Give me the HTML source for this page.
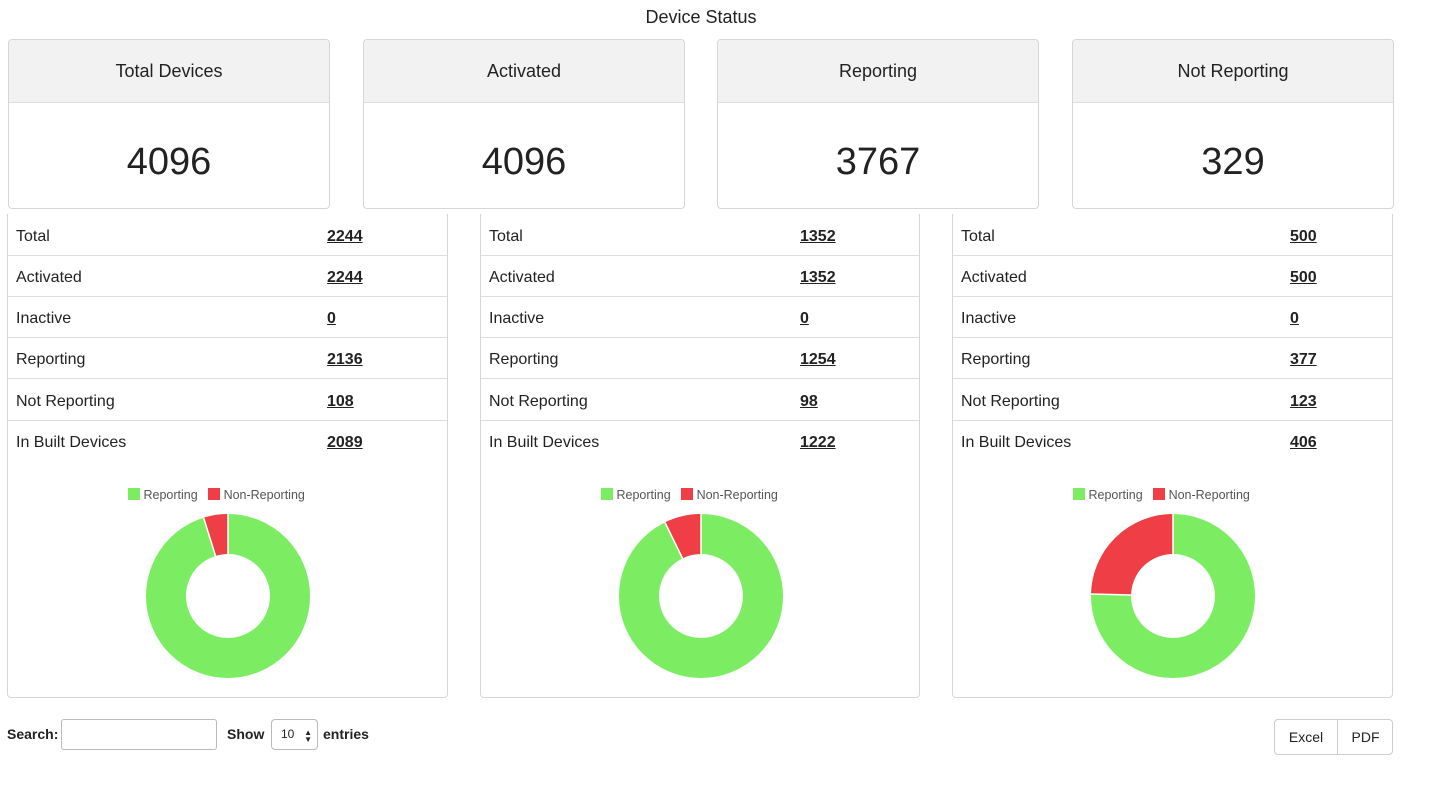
<!DOCTYPE html>
<html><head><meta charset="utf-8"><style>
*{box-sizing:border-box;margin:0;padding:0}
body{width:1450px;height:800px;background:#fff;font-family:"Liberation Sans",sans-serif;color:#222;position:relative;overflow:hidden}
.abs{position:absolute}
.title{left:0;width:1402px;top:7px;text-align:center;font-size:18px}
.card{top:39px;height:170px;width:322px;border:1px solid #d6d6d6;border-radius:4px;overflow:hidden}
.card .h{height:63px;background:#f2f2f2;border-bottom:1px solid #ddd;text-align:center;line-height:63px;font-size:18px}
.card .n{text-align:center;font-size:38px;line-height:40px;padding-top:39px}
.panel{top:214px;height:484px;border:1px solid #d6d6d6;border-top:none;border-radius:0 0 4px 4px}
.row{position:absolute;left:0;right:0;height:41px;border-bottom:1px solid #ddd;font-size:16px;line-height:44px}
.row span.l{position:absolute;left:8px}
.row span.v{position:absolute;font-weight:bold;text-decoration:underline}
.leg{position:absolute;top:274px;font-size:12.5px;color:#555}
.leg i{display:inline-block;width:12px;height:12px;vertical-align:-1px}
.ctl{font-size:14px;font-weight:bold}
</style></head><body>
<div class="abs title">Device Status</div>
<div class="abs card" style="left:8px"><div class="h">Total Devices</div><div class="n">4096</div></div>
<div class="abs card" style="left:363px"><div class="h">Activated</div><div class="n">4096</div></div>
<div class="abs card" style="left:717px"><div class="h">Reporting</div><div class="n">3767</div></div>
<div class="abs card" style="left:1072px"><div class="h">Not Reporting</div><div class="n">329</div></div>

<div class="abs panel" style="left:7px;width:441px">
<div class="row" style="top:1px"><span class="l">Total</span><span class="v" style="left:319px">2244</span></div>
<div class="row" style="top:42px"><span class="l">Activated</span><span class="v" style="left:319px">2244</span></div>
<div class="row" style="top:83px"><span class="l">Inactive</span><span class="v" style="left:319px">0</span></div>
<div class="row" style="top:124px"><span class="l">Reporting</span><span class="v" style="left:319px">2136</span></div>
<div class="row" style="top:166px"><span class="l">Not Reporting</span><span class="v" style="left:319px">108</span></div>
<div class="row" style="top:207px;border-bottom:none"><span class="l">In Built Devices</span><span class="v" style="left:319px">2089</span></div>
<div class="leg" style="left:120px"><i style="background:#7ced62"></i> Reporting &nbsp; <i style="background:#f03e46"></i> Non-Reporting</div>
<svg class="abs" style="left:138px;top:300px" width="164" height="164"><g transform="translate(82,82) rotate(-90)"><circle r="62" fill="none" stroke="#7ced62" stroke-width="40"/><circle r="62" fill="none" stroke="#f03e46" stroke-width="40" stroke-dasharray="18.75 400" stroke-dashoffset="-370.8"/><line x1="42" y1="0" x2="82" y2="0" stroke="#fff" stroke-width="1.5"/><line x1="42" y1="0" x2="82" y2="0" stroke="#fff" stroke-width="1.5" transform="rotate(-17.3)"/></g></svg>
</div>

<div class="abs panel" style="left:480px;width:440px">
<div class="row" style="top:1px"><span class="l">Total</span><span class="v" style="left:319px">1352</span></div>
<div class="row" style="top:42px"><span class="l">Activated</span><span class="v" style="left:319px">1352</span></div>
<div class="row" style="top:83px"><span class="l">Inactive</span><span class="v" style="left:319px">0</span></div>
<div class="row" style="top:124px"><span class="l">Reporting</span><span class="v" style="left:319px">1254</span></div>
<div class="row" style="top:166px"><span class="l">Not Reporting</span><span class="v" style="left:319px">98</span></div>
<div class="row" style="top:207px;border-bottom:none"><span class="l">In Built Devices</span><span class="v" style="left:319px">1222</span></div>
<div class="leg" style="left:120px"><i style="background:#7ced62"></i> Reporting &nbsp; <i style="background:#f03e46"></i> Non-Reporting</div>
<svg class="abs" style="left:138px;top:300px" width="164" height="164"><g transform="translate(82,82) rotate(-90)"><circle r="62" fill="none" stroke="#7ced62" stroke-width="40"/><circle r="62" fill="none" stroke="#f03e46" stroke-width="40" stroke-dasharray="28.24 400" stroke-dashoffset="-361.3"/><line x1="42" y1="0" x2="82" y2="0" stroke="#fff" stroke-width="1.5"/><line x1="42" y1="0" x2="82" y2="0" stroke="#fff" stroke-width="1.5" transform="rotate(-26.1)"/></g></svg>
</div>

<div class="abs panel" style="left:952px;width:441px">
<div class="row" style="top:1px"><span class="l">Total</span><span class="v" style="left:337px">500</span></div>
<div class="row" style="top:42px"><span class="l">Activated</span><span class="v" style="left:337px">500</span></div>
<div class="row" style="top:83px"><span class="l">Inactive</span><span class="v" style="left:337px">0</span></div>
<div class="row" style="top:124px"><span class="l">Reporting</span><span class="v" style="left:337px">377</span></div>
<div class="row" style="top:166px"><span class="l">Not Reporting</span><span class="v" style="left:337px">123</span></div>
<div class="row" style="top:207px;border-bottom:none"><span class="l">In Built Devices</span><span class="v" style="left:337px">406</span></div>
<div class="leg" style="left:120px"><i style="background:#7ced62"></i> Reporting &nbsp; <i style="background:#f03e46"></i> Non-Reporting</div>
<svg class="abs" style="left:138px;top:300px" width="164" height="164"><g transform="translate(82,82) rotate(-90)"><circle r="62" fill="none" stroke="#7ced62" stroke-width="40"/><circle r="62" fill="none" stroke="#f03e46" stroke-width="40" stroke-dasharray="95.83 400" stroke-dashoffset="-293.7"/><line x1="42" y1="0" x2="82" y2="0" stroke="#fff" stroke-width="1.5"/><line x1="42" y1="0" x2="82" y2="0" stroke="#fff" stroke-width="1.5" transform="rotate(-88.6)"/></g></svg>
</div>

<div class="abs ctl" style="left:7px;top:726px">Search:</div>
<div class="abs" style="left:61px;top:719px;width:156px;height:31px;border:1px solid #bbb;border-radius:3px"></div>
<div class="abs ctl" style="left:227px;top:726px">Show</div>
<div class="abs" style="left:271px;top:719px;width:47px;height:31px;border:1px solid #bbb;border-radius:4px;font-size:12px;line-height:29px;padding-left:9px">10 <span style="position:absolute;right:5px;font-size:8px;line-height:7px;top:9px">▲<br>▼</span></div>
<div class="abs ctl" style="left:323px;top:726px">entries</div>
<div class="abs" style="left:1274px;top:719px;width:119px;height:36px;border:1px solid #ccc;border-radius:4px;font-size:14px;line-height:34px">
<span class="abs" style="left:0;width:63px;text-align:center;border-right:1px solid #ccc;height:34px">Excel</span>
<span class="abs" style="left:63px;width:55px;text-align:center">PDF</span></div>
</body></html>
